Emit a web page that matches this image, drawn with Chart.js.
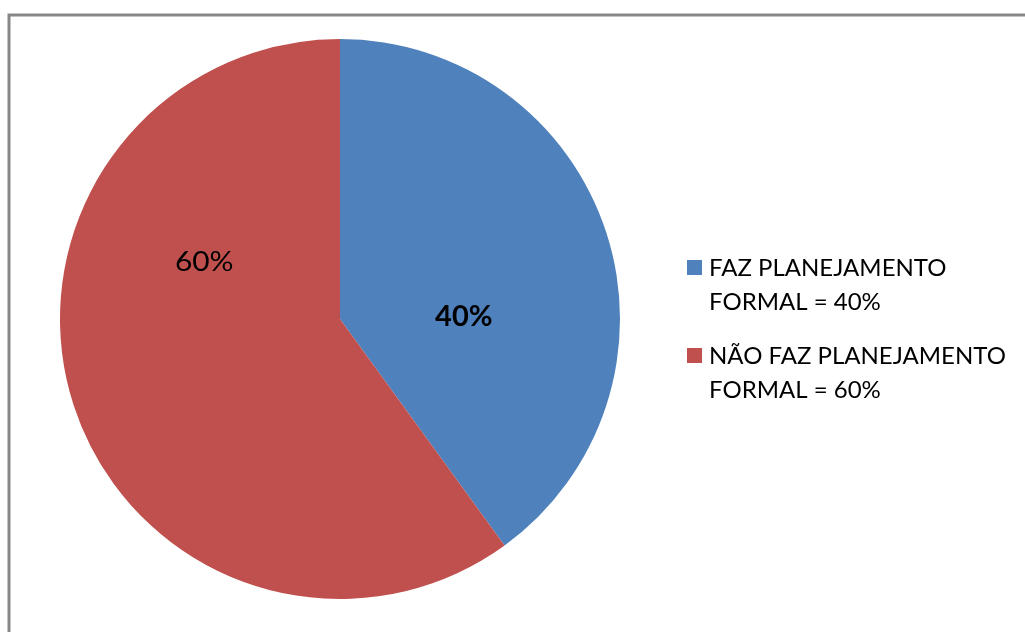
<!DOCTYPE html>
<html>
<head>
<meta charset="utf-8">
<script src="https://cdn.jsdelivr.net/npm/chart.js@4/dist/chart.umd.min.js"></script>
<style>
  html, body { margin: 0; padding: 0; background: #ffffff; }
  #wrap { width: 1025px; height: 632px; position: relative; }
</style>
</head>
<body>
<div id="wrap"><canvas id="c" width="1025" height="632"></canvas></div>
<script>
// Survey answers: formal planning or not
const categories = ['FAZ PLANEJAMENTO FORMAL = 40%', 'NÃO FAZ PLANEJAMENTO FORMAL = 60%'];
const legendLines = [['FAZ PLANEJAMENTO', 'FORMAL = 40%'], ['NÃO FAZ PLANEJAMENTO', 'FORMAL = 60%']];
const shares = [40, 60];
const sliceLabels = ['40%', '60%'];
const sliceColors = ['#4F81BD', '#C0504D'];

// Label placement inside each slice, as fractions of the radius from the centre
const labelOffsets = [
  { dx: 0.442, dy: -0.01, font: 'bold 29px', stretch: 1.0 },
  { dx: -0.485, dy: -0.2, font: '26px', stretch: 1.15 }
];

const framePlugin = {
  id: 'frame',
  beforeDraw(chart) {
    const ctx = chart.ctx;
    ctx.save();
    ctx.fillStyle = '#ffffff';
    ctx.fillRect(0, 0, chart.width, chart.height);
    ctx.strokeStyle = '#878787';
    ctx.lineWidth = 3;
    ctx.strokeRect(9, 15, 1040, 660);
    ctx.restore();
  }
};

const sliceLabelPlugin = {
  id: 'sliceLabels',
  afterDatasetsDraw(chart) {
    const ctx = chart.ctx;
    const meta = chart.getDatasetMeta(0);
    meta.data.forEach((arc, i) => {
      const r = arc.outerRadius;
      const o = labelOffsets[i];
      ctx.save();
      ctx.translate(arc.x + o.dx * r, arc.y + o.dy * r);
      ctx.scale(o.stretch, 1);
      ctx.textAlign = 'center';
      ctx.textBaseline = 'middle';
      ctx.fillStyle = '#000000';
      ctx.font = o.font + ' Lato, "Open Sans", sans-serif';
      ctx.fillText(sliceLabels[i], 0, 0);
      ctx.restore();
    });
  }
};

const legendPlugin = {
  id: 'sideLegend',
  afterDraw(chart) {
    const ctx = chart.ctx;
    const x0 = 687, y0 = 268, box = 15, lineH = 34, itemGap = 54;
    ctx.save();
    ctx.font = '24px Lato, "Open Sans", sans-serif';
    ctx.textBaseline = 'alphabetic';
    ctx.textAlign = 'left';
    let y = y0;
    legendLines.forEach((lines, i) => {
      ctx.fillStyle = sliceColors[i];
      ctx.fillRect(x0, y - 8, box, box);
      ctx.fillStyle = '#000000';
      lines.forEach((t, j) => ctx.fillText(t, x0 + 22, y + 8 + j * lineH));
      y += lineH + itemGap;
    });
    ctx.restore();
  }
};

new Chart(document.getElementById('c'), {
  type: 'pie',
  data: {
    labels: categories,
    datasets: [{
      data: shares,
      backgroundColor: sliceColors,
      borderWidth: 0,
      hoverOffset: 0
    }]
  },
  options: {
    responsive: false,
    animation: false,
    layout: { padding: { left: 60, right: 405, top: 39, bottom: 33 } },
    plugins: {
      legend: { display: false },
      tooltip: { enabled: false }
    }
  },
  plugins: [framePlugin, sliceLabelPlugin, legendPlugin]
});
</script>
</body>
</html>
